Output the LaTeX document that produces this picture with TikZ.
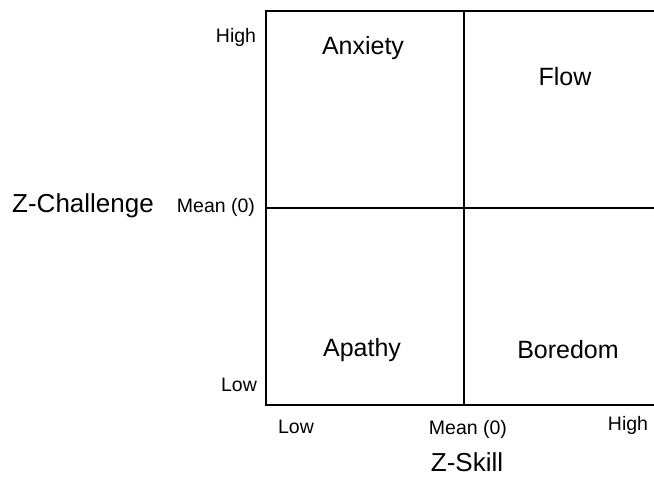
\documentclass[tikz,border=0pt]{standalone}
\usepackage{fontspec}
\setmainfont{Liberation Sans}
\usepackage{tikz}
\usetikzlibrary{positioning}

\begin{document}
\begin{tikzpicture}[
	x = 1pt, y = -1pt,
	frame/.style={line width=1.4pt, line join=miter},
	divider/.style={line width=1.2pt},
	tick/.style={font=\fontsize{19.5}{22}\selectfont, inner sep=0pt},
	quadrant/.style={font=\fontsize{25}{28}\selectfont, inner sep=0pt},
	axislabel/.style={font=\fontsize{26}{30}\selectfont, inner sep=0pt},
	]
	\useasboundingbox (0,0) rectangle (654,478);
	
	\coordinate (TL) at (266,11);
	\coordinate (BL) at (266,405);
	\coordinate (TR) at (670,11);
	\coordinate (BR) at (670,405);
	\draw[frame] (TR) -- (TL) -- (BL) -- (BR);
	\draw[divider] (464,11) -- (464,405);
	\draw[divider] (266,208) -- (670,208);
	
	\node (anxiety) [quadrant] at (363,48) {Anxiety};
	\node (flow) [quadrant] at (565,77) {Flow};
	\node (apathy) [quadrant] at (362,350) {Apathy};
	\node (boredom) [quadrant] at (568,350) {Boredom};
	
	\node (yhigh) [tick] at (236,37) {High};
	\node (ymean) [tick] at (216,207) {Mean (0)};
	\node (ylow) [tick] at (239,385) {Low};
	\node (ylabel) [axislabel] at (83,206) {Z-Challenge};
	
	\node (xlow) [tick] at (296,427) {Low};
	\node (xmean) [tick] at (468,429) {Mean (0)};
	\node (xhigh) [tick] at (628,425) {High};
	\node (xlabel) [axislabel] at (467,462) {Z-Skill};
\end{tikzpicture}
\end{document}
